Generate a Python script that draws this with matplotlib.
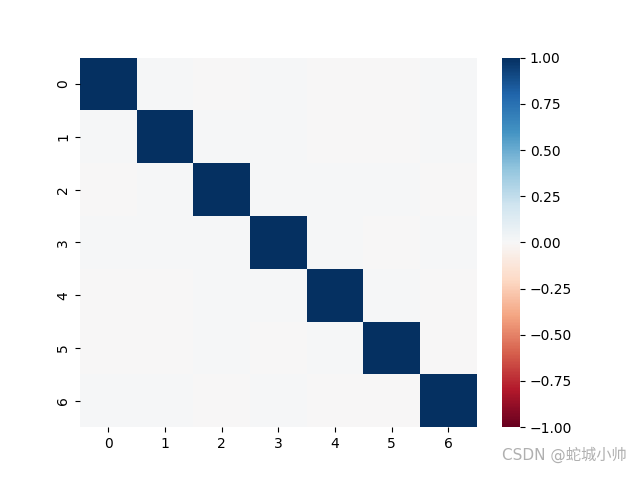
import numpy as np
import matplotlib
matplotlib.use("Agg")
import matplotlib.pyplot as plt
import seaborn as sns

# correlation matrix of 7 features (tiny off-diagonal values)
labels = [0, 1, 2, 3, 4, 5, 6]
corr = [
    [1.000, 0.012, -0.004, 0.010, -0.003, -0.004, 0.011],
    [0.012, 1.000, 0.013, 0.012, -0.003, -0.004, 0.010],
    [-0.004, 0.013, 1.000, 0.011, 0.012, 0.010, -0.003],
    [0.010, 0.012, 0.011, 1.000, 0.012, -0.004, 0.010],
    [-0.003, -0.003, 0.012, 0.012, 1.000, 0.013, -0.003],
    [-0.004, -0.004, 0.010, -0.004, 0.013, 1.000, -0.004],
    [0.011, 0.010, -0.003, 0.010, -0.003, -0.004, 1.000],
]

plt.rcParams['font.family'] = ['DejaVu Sans', 'Noto Sans CJK SC']

fig, ax = plt.subplots(figsize=(6.4, 4.8), dpi=100)
sns.heatmap(np.array(corr), vmin=-1, vmax=1, cmap="RdBu", ax=ax,
            xticklabels=labels, yticklabels=labels)

# watermark from the source page
fig.text(0.98, 0.035, "CSDN @蛇城小帅", ha="right", va="bottom",
         fontsize=11, color="#b0b0b0", family=['DejaVu Sans', 'Noto Sans CJK SC'])

fig.savefig("out.png")
